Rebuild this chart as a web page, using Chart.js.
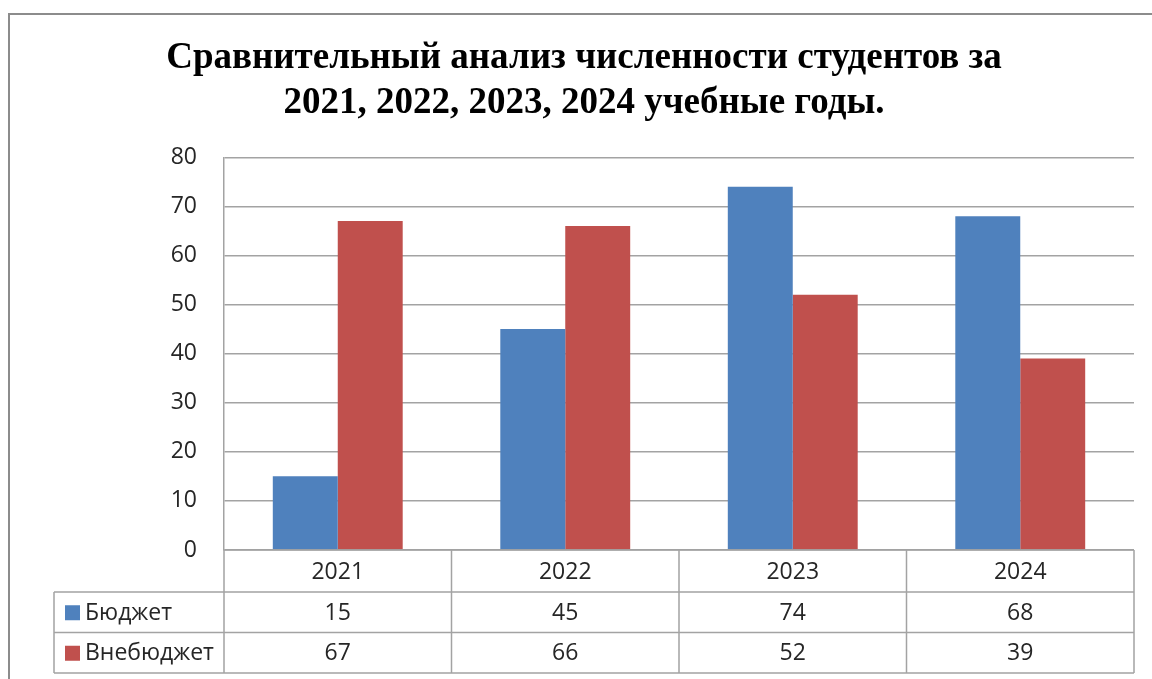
<!DOCTYPE html>
<html>
<head>
<meta charset="utf-8">
<script src="https://cdn.jsdelivr.net/npm/chart.js@4"></script>
<style>
  html, body { margin: 0; padding: 0; background: #fff; }
  #wrap { width: 1152px; height: 679px; }
</style>
</head>
<body>
<div id="wrap"><canvas id="chart" width="1152" height="679"></canvas></div>
<script>
// Data
var years = ['2021', '2022', '2023', '2024'];
var budget = [15, 45, 74, 68];
var offBudget = [67, 66, 52, 39];
var seriesNames = ['Бюджет', 'Внебюджет'];
var titleLines = ['Сравнительный анализ численности студентов за', '2021, 2022, 2023, 2024 учебные годы.'];

var BLUE = '#4F81BD';
var RED = '#C0504D';
var GRID = '#a3a3a3';
var TEXT = '#262626';
var FONT = "'Open Sans', sans-serif";

// outer frame + white background
var framePlugin = {
    id: 'frame',
    beforeDraw: function (chart) {
        var ctx = chart.ctx;
        ctx.save();
        ctx.fillStyle = '#fff';
        ctx.fillRect(0, 0, chart.width, chart.height);
        ctx.strokeStyle = '#8c8c8c';
        ctx.lineWidth = 2;
        ctx.strokeRect(9, 14, chart.width + 20, chart.height + 20);
        ctx.restore();
    }
};

// Excel style data table under the plot
var tablePlugin = {
    id: 'dataTable',
    afterDraw: function (chart) {
        var ctx = chart.ctx;
        var a = chart.chartArea;
        var x = chart.scales.x;
        var half = (x.getPixelForValue(1) - x.getPixelForValue(0)) / 2;
        var headH = 42, rowH = 40.5, tableLeft = 54;
        var top = a.bottom;
        var rows = [top, top + headH, top + headH + rowH, top + headH + 2 * rowH];
        var rowData = [budget, offBudget];
        var colors = [BLUE, RED];

        ctx.save();
        ctx.strokeStyle = GRID;
        ctx.lineWidth = 1.5;
        ctx.beginPath();
        // horizontal lines
        ctx.moveTo(a.left, rows[0]); ctx.lineTo(a.right, rows[0]);
        for (var r = 1; r < rows.length; r++) {
            ctx.moveTo(tableLeft, rows[r]); ctx.lineTo(a.right, rows[r]);
        }
        // vertical lines
        ctx.moveTo(tableLeft, rows[1]); ctx.lineTo(tableLeft, rows[3]);
        ctx.moveTo(a.left, rows[0]); ctx.lineTo(a.left, rows[3]);
        for (var i = 0; i < years.length; i++) {
            var xr = x.getPixelForValue(i) + half;
            ctx.moveTo(xr, rows[0]); ctx.lineTo(xr, rows[3]);
        }
        ctx.stroke();

        ctx.fillStyle = TEXT;
        ctx.font = '23px ' + FONT;
        ctx.textAlign = 'center';
        ctx.textBaseline = 'middle';
        years.forEach(function (y, i) {
            ctx.fillText(y, x.getPixelForValue(i), (rows[0] + rows[1]) / 2 + 1);
        });
        rowData.forEach(function (vals, r) {
            var cy = (rows[r + 1] + rows[r + 2]) / 2 + 1;
            vals.forEach(function (v, i) {
                ctx.fillStyle = TEXT;
                ctx.fillText(String(v), x.getPixelForValue(i), cy);
            });
            // legend key
            ctx.fillStyle = colors[r];
            ctx.fillRect(65, cy - 8, 15, 15);
            ctx.fillStyle = TEXT;
            ctx.textAlign = 'left';
            ctx.fillText(seriesNames[r], 85, cy);
            ctx.textAlign = 'center';
        });
        ctx.restore();
    }
};

new Chart(
    document.getElementById('chart'),
    {
        type: 'bar',
        data: {
            labels: years,
            datasets: [
                {
                    label: seriesNames[0],
                    data: budget,
                    backgroundColor: BLUE,
                    borderWidth: 0,
                    categoryPercentage: 0.571,
                    barPercentage: 1.0
                },
                {
                    label: seriesNames[1],
                    data: offBudget,
                    backgroundColor: RED,
                    borderWidth: 0,
                    categoryPercentage: 0.571,
                    barPercentage: 1.0
                }
            ]
        },
        plugins: [framePlugin, tablePlugin],
        options: {
            responsive: false,
            animation: false,
            layout: {
                padding: { left: 16, right: 0, top: 0, bottom: 129 }
            },
            plugins: {
                legend: { display: false },
                tooltip: { enabled: false },
                title: {
                    display: true,
                    text: titleLines,
                    color: '#000',
                    font: { family: "'Liberation Serif', serif", size: 37, weight: 'bold', lineHeight: 1.22 },
                    padding: { top: 36, bottom: 31 }
                }
            },
            scales: {
                x: {
                    display: false
                },
                y: {
                    min: 0,
                    max: 80,
                    ticks: {
                        stepSize: 10,
                        padding: 27,
                        color: TEXT,
                        font: { family: FONT, size: 23 }
                    },
                    grid: {
                        color: GRID,
                        lineWidth: 1.5,
                        drawTicks: false
                    },
                    border: { color: GRID, width: 1.5 },
                    afterFit: function (scale) { scale.width = 208; }
                },
                yRight: {
                    position: 'right',
                    display: true,
                    min: 0,
                    max: 80,
                    ticks: { display: false },
                    grid: { display: false, drawTicks: false },
                    border: { display: false },
                    afterFit: function (scale) { scale.width = 18; }
                }
            }
        }
    }
);
</script>
</body>
</html>
